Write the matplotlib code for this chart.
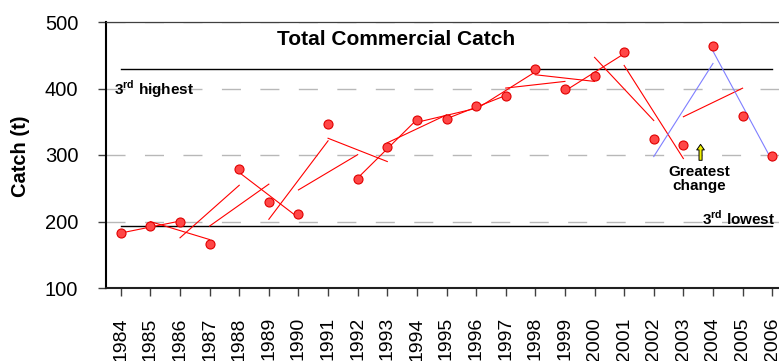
import numpy as np
import matplotlib.pyplot as plt

plt.rcParams['font.family'] = ['Liberation Sans', 'DejaVu Sans']
plt.rcParams['mathtext.fontset'] = 'custom'
plt.rcParams['mathtext.rm'] = 'Liberation Sans'
plt.rcParams['mathtext.bf'] = 'Liberation Sans:bold'

years = [1984, 1985, 1986, 1987, 1988, 1989, 1990, 1991, 1992, 1993, 1994, 1995,
         1996, 1997, 1998, 1999, 2000, 2001, 2002, 2003, 2004, 2005, 2006]
catch = [182, 193, 200, 166, 279, 229, 211, 347, 264, 312, 352, 354,
         373, 389, 429, 399, 419, 455, 324, 315, 464, 358, 299]
# 3-year windows (by first year) with the biggest swing
big_change = [2002, 2004]
y_ticks = [100, 200, 300, 400, 500]

fig = plt.figure(figsize=(7.79, 3.61), dpi=100)
ax = fig.add_axes([106 / 779, 73 / 361, 681 / 779, 266 / 361])

# linear trend through every run of three years
for i in range(len(years) - 2):
    xs = np.array(years[i:i + 3])
    ys = np.array(catch[i:i + 3])
    m, b = np.polyfit(xs, ys, 1)
    col = '#7f7fff' if xs[0] in big_change else '#ff0000'
    ax.plot([xs[0], xs[-1]], [m * xs[0] + b, m * xs[-1] + b], color=col, lw=0.8, zorder=2)

ax.plot(years, catch, ls='none', marker='o', ms=6.5, mfc='#ff4747', mec='#e00000',
        mew=0.8, zorder=3)

# 3rd highest / 3rd lowest reference lines
ranked = sorted(catch)
ax.plot([years[0], years[-1]], [ranked[-3], ranked[-3]], color='black', lw=1.0, zorder=1.5)
ax.plot([years[0], years[-1]], [ranked[2], ranked[2]], color='black', lw=1.0, zorder=1.5)

ax.set_xlim(years[0] - 0.5, years[-1] + 0.5)
ax.set_ylim(100, 500)
ax.set_yticks(y_ticks)
ax.set_xticks(years)
ax.set_xticklabels([str(y) for y in years], rotation=90, va='top')
ax.tick_params(axis='both', direction='out', length=6, width=1, color='#404040',
               labelsize=14.5)
ax.tick_params(axis='y', pad=14)
ax.tick_params(axis='x', pad=15, labelsize=14)

ax.yaxis.grid(True, color='#b8b8b8', lw=1.0, linestyle=(0, (13.7, 14)))
ax.set_axisbelow(True)

ax.spines['right'].set_visible(False)
ax.spines['top'].set_color('#404040')
ax.spines['top'].set_linewidth(0.9)
ax.spines['left'].set_linewidth(1.5)
ax.spines['bottom'].set_linewidth(1.5)
ax.spines['bottom'].set_color('#202020')

fig.text(20 / 779, 1 - 156 / 361, 'Catch (t)', rotation=90, ha='center', va='center',
         fontsize=14.5, fontweight='bold')

ax.text(1993.29, 473, 'Total Commercial Catch', ha='center', va='center',
        fontsize=15, fontweight='bold')
ax.text(1983.77, 399, r'3$^{\mathbf{rd}}$ highest', ha='left', va='center',
        fontsize=11, fontweight='bold')
ax.text(2006.1, 205, r'3$^{\mathbf{rd}}$ lowest', ha='right', va='center',
        fontsize=11, fontweight='bold')
ax.text(2003.55, 263.5, 'Greatest\nchange', ha='center', va='center',
        fontsize=11, fontweight='bold', linespacing=1.0)

ax.annotate('', xy=(2003.58, 316), xytext=(2003.58, 292),
            arrowprops=dict(arrowstyle='simple,head_width=0.55,head_length=0.4,tail_width=0.22',
                            fc='#f0f000', ec='black', lw=0.7, shrinkA=0, shrinkB=0))

fig.savefig('out.png', dpi=100)
